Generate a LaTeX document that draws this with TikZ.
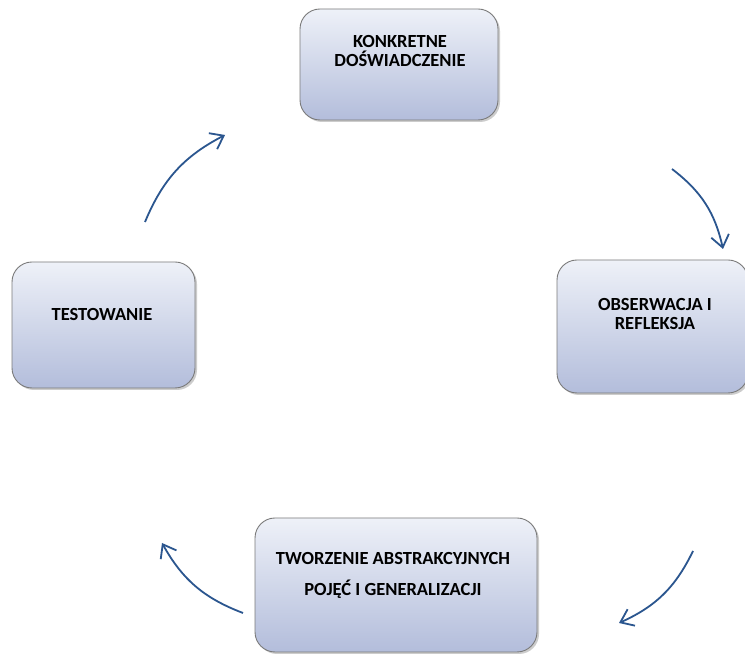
\documentclass[tikz,border=0pt]{standalone}
\usepackage{fontspec}
\setmainfont{Carlito}
\usetikzlibrary{arrows.meta,shadows}
\definecolor{boxtop}{HTML}{EEF1F8}
\definecolor{boxbot}{HTML}{B3BDDB}
\definecolor{boxline}{HTML}{7A7A7A}
\definecolor{arr}{HTML}{2B568F}
\begin{document}
\begin{tikzpicture}[x=1pt,y=1pt,
  stagebox/.style={draw=boxline, line width=0.9pt, rounded corners=20pt,
    top color=boxtop, bottom color=boxbot, inner sep=0pt,
    drop shadow={shadow xshift=2pt,shadow yshift=-2pt,opacity=0.4}},
  stagetext/.style={font=\bfseries\fontsize{18.5}{19}\selectfont, align=center, inner sep=0pt},
  cyc/.style={draw=arr, line width=1.8pt, bend left=20,
    -{Straight Barb[length=12pt,width=18pt,line width=1.8pt]}}]
\useasboundingbox (0,0) rectangle (745,655);
\fill[white] (0,0) rectangle (745,655);
% boxes
\node[stagebox, minimum width=198pt, minimum height=111pt] (k) at (399,590.5) {};
\node[stagetext] (kt) at (400,604) {KONKRETNE\\DOŚWIADCZENIE};
\node[stagebox, minimum width=191pt, minimum height=133pt] (o) at (652.5,328.5) {};
\node[stagetext] (ot) at (655,341) {OBSERWACJA I\\REFLEKSJA};
\node[stagebox, minimum width=183pt, minimum height=126pt] (t) at (103.5,330) {};
\node[stagetext] (tt) at (102,340) {TESTOWANIE};
\node[stagebox, minimum width=282pt, minimum height=134pt] (g) at (396,70) {};
\node[stagetext, font=\bfseries\fontsize{18.5}{31}\selectfont] (gt) at (393,80) {TWORZENIE ABSTRAKCYJNYCH\\POJĘĆ I GENERALIZACJI};
% arrow ends
\coordinate (a1s) at (145,433); \coordinate (a1e) at (225,520);
\coordinate (a2s) at (672,486); \coordinate (a2e) at (723,406);
\coordinate (a3s) at (693,104); \coordinate (a3e) at (619,32);
\coordinate (a4s) at (243,42);  \coordinate (a4e) at (162,112);
\draw[cyc] (a1s) to (a1e);
\draw[cyc] (a2s) to (a2e);
\draw[cyc] (a3s) to (a3e);
\draw[cyc] (a4s) to (a4e);
\end{tikzpicture}
\end{document}
